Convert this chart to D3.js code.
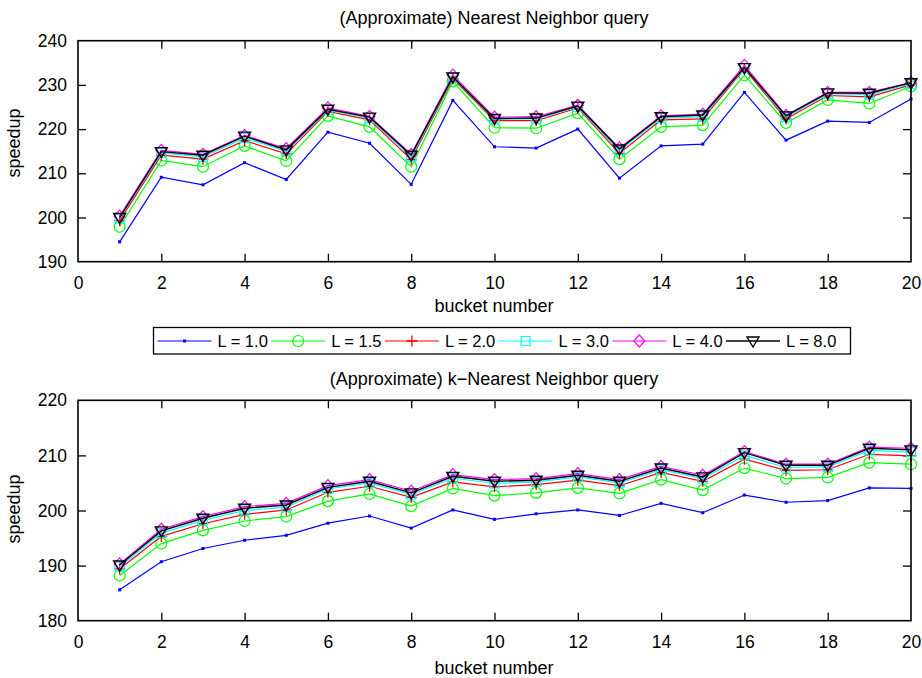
<!DOCTYPE html>
<html><head><meta charset="utf-8">
<script src="https://cdn.jsdelivr.net/npm/d3@7"></script>
<style>
body{margin:0;background:#fff;}
text{font-family:"Liberation Sans",Arial,sans-serif;fill:#000;}
</style></head>
<body>
<svg id="c" width="922" height="678"></svg>
<script>
const buckets = d3.range(1, 21);
const xTicks = [0,2,4,6,8,10,12,14,16,18,20];
const nnTicks = [190,200,210,220,230,240];
const knnTicks = [180,190,200,210,220];
const seriesNames = ["L = 1.0","L = 1.5","L = 2.0","L = 3.0","L = 4.0","L = 8.0"];
const seriesColors = ["#0000ff","#00ff00","#ff0000","#00ffff","#ff00ff","#000000"];
const seriesMarkers = ["dot","circle","plus","square","diamond","tri"];

// Nearest Neighbor query
const nn_L1  = [194.5,209.1,207.4,212.4,208.6,219.3,216.8,207.5,226.5,216.0,215.7,220.0,208.9,216.2,216.6,228.3,217.5,221.8,221.5,226.8];
const nn_L15 = [197.9,212.9,211.5,216.2,212.8,223.0,220.5,211.5,230.8,220.3,220.2,223.6,213.2,220.5,220.9,232.2,221.4,226.6,225.8,229.7];
const nn_L2  = [199.3,214.1,213.2,217.4,214.4,224.0,222.1,213.1,231.4,221.9,221.9,224.8,214.5,222.1,222.3,233.6,222.3,227.6,227.3,230.0];
const nn_L3  = [199.8,214.6,213.7,218.0,215.0,224.3,222.5,213.7,231.6,222.2,222.3,225.0,215.1,222.5,222.8,233.8,222.7,228.0,227.8,230.2];
const nn_L4  = [200.3,215.2,214.3,218.6,215.6,224.8,222.9,214.3,232.2,222.7,222.8,225.4,215.7,223.0,223.4,234.4,223.1,228.3,228.3,230.5];
const nn_L8  = [200.0,214.9,214.1,218.4,215.3,224.5,222.7,214.1,231.8,222.4,222.5,225.2,215.5,222.8,223.2,233.9,223.0,228.2,228.1,230.5];

// k-Nearest Neighbor query
const knn_L1  = [185.6,190.7,193.1,194.6,195.5,197.7,199.0,196.8,200.1,198.4,199.4,200.1,199.1,201.3,199.6,202.8,201.5,201.8,204.1,204.0];
const knn_L15 = [188.2,194.0,196.4,198.1,198.9,201.7,203.0,200.8,204.0,202.7,203.2,204.1,203.1,205.6,203.7,207.7,205.8,206.0,208.7,208.4];
const knn_L2  = [189.4,195.3,197.6,199.3,200.1,203.3,204.4,202.4,205.2,204.3,204.7,205.5,204.5,206.9,205.3,209.3,207.3,207.4,210.2,209.9];
const knn_L3  = [189.8,195.9,198.2,200.0,200.6,203.9,205.0,202.9,205.9,204.9,205.2,206.1,205.0,207.4,205.8,210.0,207.8,207.9,210.9,210.6];
const knn_L4  = [190.3,196.6,198.9,200.7,201.3,204.5,205.6,203.5,206.5,205.6,205.8,206.7,205.6,208.0,206.4,210.7,208.4,208.4,211.5,211.3];
const knn_L8  = [190.1,196.3,198.6,200.4,201.0,204.2,205.3,203.2,206.2,205.3,205.5,206.4,205.3,207.7,206.1,210.5,208.2,208.2,211.3,211.0];

const svg = d3.select("#c");

function marker(g, type, color, x, y){
  if(type==="dot"){
    g.append("rect").attr("x",x-1.5).attr("y",y-1.5).attr("width",3).attr("height",3).attr("fill",color);
  } else if(type==="circle"){
    g.append("circle").attr("cx",x).attr("cy",y).attr("r",5.5).attr("fill","none").attr("stroke",color).attr("stroke-width",1.2);
  } else if(type==="plus"){
    g.append("path").attr("d",`M${x-5.5},${y}H${x+5.5}M${x},${y-5.5}V${y+5.5}`).attr("stroke",color).attr("stroke-width",1.3).attr("fill","none");
  } else if(type==="square"){
    g.append("rect").attr("x",x-4.5).attr("y",y-4.5).attr("width",9).attr("height",9).attr("fill","none").attr("stroke",color).attr("stroke-width",1.2);
  } else if(type==="diamond"){
    g.append("path").attr("d",`M${x},${y-6}L${x+5.5},${y}L${x},${y+6}L${x-5.5},${y}Z`).attr("fill","none").attr("stroke",color).attr("stroke-width",1.2);
  } else if(type==="tri"){
    g.append("path").attr("d",`M${x-6},${y-4}L${x+6},${y-4}L${x},${y+6}Z`).attr("fill","none").attr("stroke",color).attr("stroke-width",1.4);
  }
}

function panel(cfg){
  const x = d3.scaleLinear().domain([0,20]).range([78,911]);
  const y = d3.scaleLinear().domain(cfg.yDomain).range([cfg.bottom, cfg.top]);
  const g = svg.append("g");
  const fs = "17.5px";
  // axes
  const ax = g.append("g").attr("transform",`translate(0,${cfg.bottom})`)
    .call(d3.axisBottom(x).tickValues(xTicks).tickSize(-8).tickSizeOuter(0).tickPadding(15).tickFormat(d3.format("d")));
  const axTop = g.append("g").attr("transform",`translate(0,${cfg.top})`)
    .call(d3.axisTop(x).tickValues(xTicks.slice(1,-1)).tickSize(-8).tickSizeOuter(0).tickFormat(""));
  const ay = g.append("g").attr("transform",`translate(78,0)`)
    .call(d3.axisLeft(y).tickValues(cfg.yTicks).tickSize(-8).tickSizeOuter(0).tickPadding(11).tickFormat(d3.format("d")));
  const ayR = g.append("g").attr("transform",`translate(911,0)`)
    .call(d3.axisRight(y).tickValues(cfg.yTicks.slice(1,-1)).tickSize(-8).tickSizeOuter(0).tickFormat(""));
  [ax,axTop,ay,ayR].forEach(a=>{
    a.select(".domain").remove();
    a.selectAll(".tick line").attr("stroke","#000").attr("stroke-width",1.3);
    a.selectAll("text").attr("font-family",'"Liberation Sans",Arial,sans-serif').attr("font-size",fs).attr("fill","#000");
  });
  ax.selectAll(".tick").filter(d=>d===0||d===20).select("line").remove();
  ay.selectAll(".tick").filter((d,i)=>i===0||i===cfg.yTicks.length-1).select("line").remove();

  // series
  cfg.series.forEach((vals,i)=>{
    const line = d3.line().x((d,j)=>x(buckets[j])).y(d=>y(d));
    g.append("path").datum(vals).attr("d",line).attr("fill","none")
      .attr("stroke",seriesColors[i]).attr("stroke-width",i===5?1.4:1.2);
    const mg = g.append("g");
    vals.forEach((v,j)=>marker(mg, seriesMarkers[i], seriesColors[i], x(buckets[j]), y(v)));
  });

  // border
  g.append("rect").attr("x",78).attr("y",cfg.top).attr("width",911-78).attr("height",cfg.bottom-cfg.top)
    .attr("fill","none").attr("stroke","#000").attr("stroke-width",1.6);

  // labels
  g.append("text").attr("x",494).attr("y",cfg.titleY).attr("text-anchor","middle").attr("font-size","18px").text(cfg.title);
  g.append("text").attr("x",494).attr("y",cfg.xLabelY).attr("text-anchor","middle").attr("font-size","18px").text("bucket number");
  g.append("text").attr("transform",`translate(20,${cfg.yLabelC}) rotate(-90)`).attr("text-anchor","middle").attr("font-size","18px").text("speedup");
}

panel({
  top:40.7, bottom:261.7, yDomain:[190,240], yTicks:nnTicks,
  series:[nn_L1,nn_L15,nn_L2,nn_L3,nn_L4,nn_L8],
  title:"(Approximate) Nearest Neighbor query", titleY:24, xLabelY:311.7, yLabelC:143
});
panel({
  top:400.3, bottom:620.7, yDomain:[180,220], yTicks:knnTicks,
  series:[knn_L1,knn_L15,knn_L2,knn_L3,knn_L4,knn_L8],
  title:"(Approximate) k\u2212Nearest Neighbor query", titleY:385, xLabelY:674, yLabelC:509
});

// legend
const lg = svg.append("g");
lg.append("rect").attr("x",153.5).attr("y",327.5).attr("width",697).attr("height",26.5)
  .attr("fill","#fff").attr("stroke","#000").attr("stroke-width",1.3);
seriesNames.forEach((name,i)=>{
  const x0 = 157.5 + i*113.7, yc = 341;
  lg.append("line").attr("x1",x0).attr("x2",x0+54).attr("y1",yc).attr("y2",yc)
    .attr("stroke",seriesColors[i]).attr("stroke-width",i===5?1.4:1.2);
  marker(lg, seriesMarkers[i], seriesColors[i], x0+27, yc);
  lg.append("text").attr("x",x0+60).attr("y",yc+6.2).attr("font-size","16.5px").text(name);
});
</script>
</body></html>
